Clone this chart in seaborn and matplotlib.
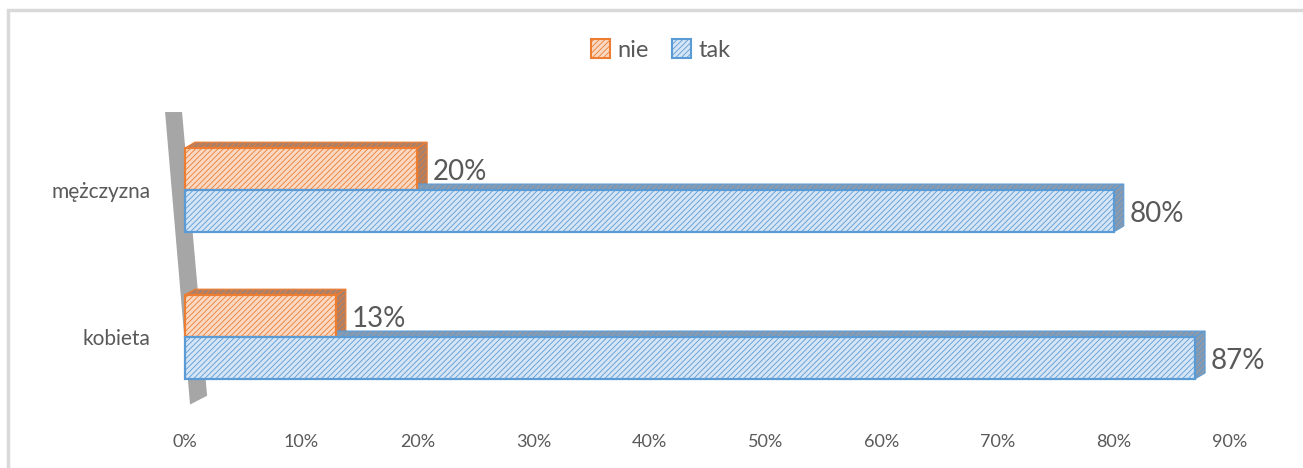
import matplotlib
matplotlib.use("Agg")
import matplotlib.pyplot as plt
from matplotlib.patches import Patch, Polygon, Rectangle
import pandas as pd
import seaborn as sns

# dane z wykresu
plec = ['mężczyzna', 'kobieta']
odpowiedzi = ['nie', 'tak']
nie_vals = [0.20, 0.13]
tak_vals = [0.80, 0.87]
x_ticks = [0.0, 0.1, 0.2, 0.3, 0.4, 0.5, 0.6, 0.7, 0.8, 0.9]

df = pd.DataFrame({
    'plec': plec + plec,
    'odp': ['nie'] * 2 + ['tak'] * 2,
    'wartosc': nie_vals + tak_vals,
})

sns.set_style("white")
plt.rcParams['font.family'] = ['Lato', 'DejaVu Sans']
plt.rcParams['hatch.linewidth'] = 0.6

szary = '#595959'
kolory = {'nie': ('#F9D9C4', '#ED7D31', '#A9806A'),
          'tak': ('#D5E5F5', '#5B9BD5', '#8C9AAC')}

fig = plt.figure(figsize=(13.03, 4.68), dpi=100)
ax = fig.add_axes([0.1242, 0.1026, 0.8287, 0.7265])

sns.barplot(data=df, y='plec', x='wartosc', hue='odp', hue_order=odpowiedzi,
            order=plec, orient='h', width=0.57, ax=ax, legend=False)

ax.set_xlim(-0.02, 0.91)
ax.set_ylim(1.565, -0.748)

# glebokosc efektu 3D (w jednostkach danych)
dx, dy = 0.0085, -0.04

for odp, cont in zip(odpowiedzi, ax.containers):
    fc, ec, side = kolory[odp]
    for bar in cont:
        bar.set_facecolor(fc)
        bar.set_edgecolor(ec)
        bar.set_hatch('//////')
        bar.set_linewidth(1.6)
        bar.set_zorder(3)
        x0, y0 = bar.get_x(), bar.get_y()
        w, h = bar.get_width(), bar.get_height()
        # gorna sciana
        ax.add_patch(Polygon([(x0, y0), (x0 + dx, y0 + dy), (x0 + w + dx, y0 + dy), (x0 + w, y0)],
                             closed=True, facecolor=side, edgecolor=ec, lw=0.8, zorder=2,
                             hatch='//////'))
        # prawa sciana
        ax.add_patch(Polygon([(x0 + w, y0), (x0 + w + dx, y0 + dy), (x0 + w + dx, y0 + h + dy), (x0 + w, y0 + h)],
                             closed=True, facecolor=side, edgecolor=ec, lw=0.8, zorder=2,
                             hatch='//////'))
        ax.text(x0 + w + dx + 0.005, y0 + h / 2 + 0.02, f"{w:.0%}", va='center', ha='left',
                fontsize=20, color=szary, zorder=5)

# szara sciana osi
ax.add_patch(Polygon([(-0.0172, -0.53), (-0.0026, -0.53), (0.019, 1.40), (0.0043, 1.46)],
                     closed=True, facecolor='#A6A6A6', edgecolor='none', zorder=1, clip_on=False))

ax.set_xticks(x_ticks)
ax.set_xticklabels([f"{t:.0%}" for t in x_ticks])
ax.tick_params(axis='x', length=0, pad=10, labelsize=13, labelcolor=szary)
ax.tick_params(axis='y', length=0, pad=8, labelsize=15, labelcolor=szary)
ax.set_xlabel('')
ax.set_ylabel('')
for s in ax.spines.values():
    s.set_visible(False)

uchwyty = [Patch(facecolor=kolory[o][0], edgecolor=kolory[o][1], hatch='//////', lw=1.5, label=o)
           for o in odpowiedzi]
fig.legend(handles=uchwyty, loc='center', bbox_to_anchor=(0.507, 0.893), ncol=2, frameon=False,
           fontsize=17, handlelength=0.8, handleheight=0.8, handletextpad=0.3, columnspacing=1.0,
           labelcolor=szary)

# ramka wykresu
fig.patches.append(Rectangle((8 / 1303, -0.05), 1.05, 1.05 - 10 / 468, transform=fig.transFigure,
                             fill=False, edgecolor='#D9D9D9', lw=2.5))

fig.savefig("out.png", dpi=100)
